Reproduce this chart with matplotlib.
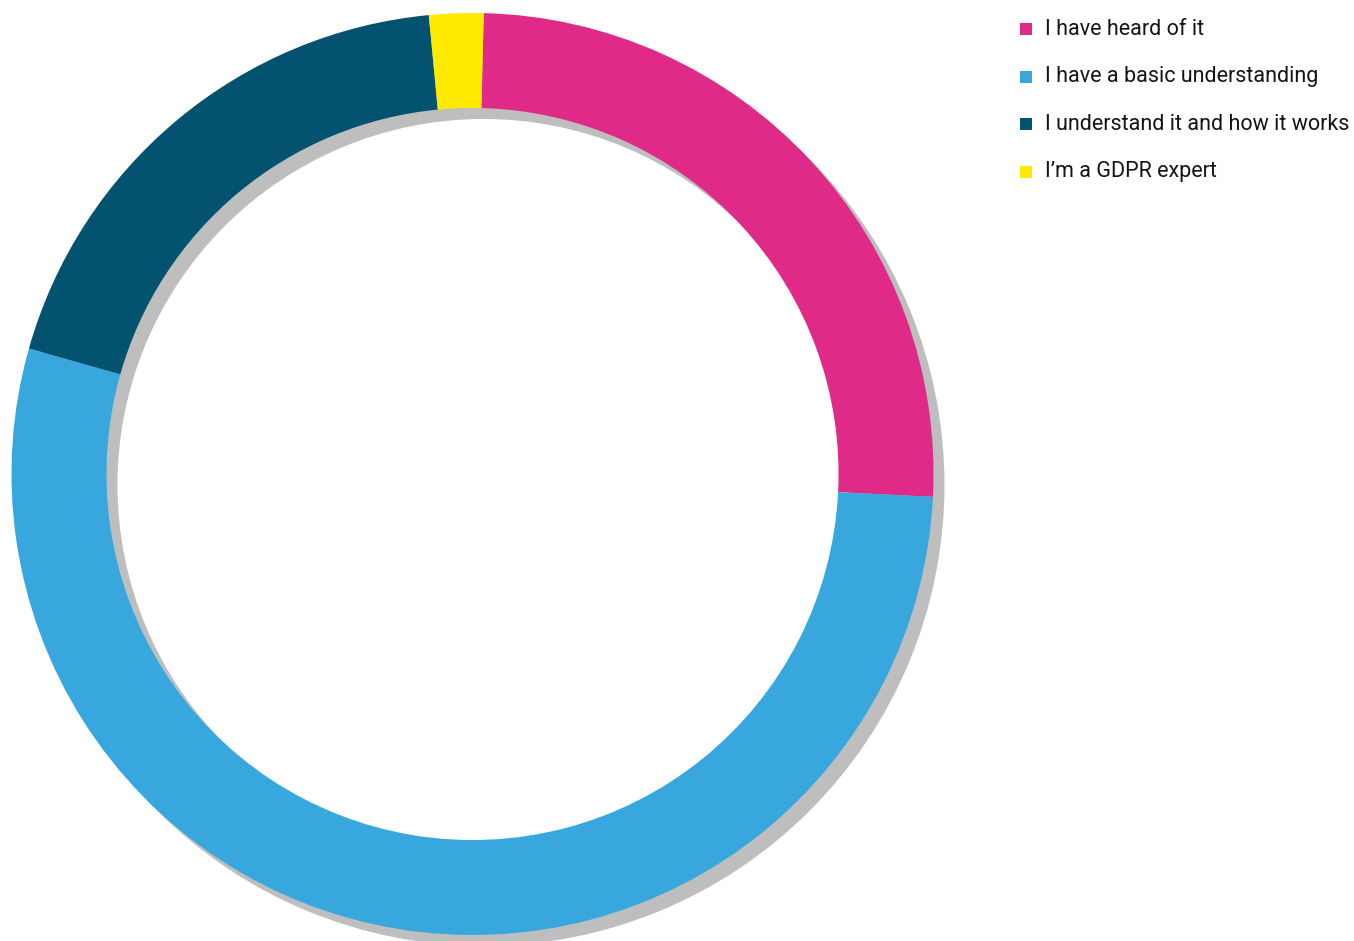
import matplotlib.pyplot as plt
from matplotlib.patches import Rectangle

# survey answers (share of respondents, %)
labels = ["I have heard of it", "I have a basic understanding",
          "I understand it and how it works", "I\u2019m a GDPR expert"]
values = [25.4, 53.6, 19.1, 1.9]
colors = ["#DF2A87", "#38A7DE", "#035270", "#FFEA00"]

plt.rcParams['font.family'] = ['Roboto', 'DejaVu Sans']

W, H = 1354, 941
fig = plt.figure(figsize=(W / 100, H / 100), dpi=100)
ax = fig.add_axes([0, 0, 1, 1])

cx, cy, r = 472.5, H - 474, 461
ring = dict(width=r * 0.206, edgecolor='none')

# drop shadow (one piece so no seams)
ax.pie([sum(values)], colors=['#BEBEBE'], radius=r, center=(cx + 11, cy - 11),
       startangle=88.6, counterclock=False, wedgeprops=ring, frame=True)
# the ring itself
wedges, _ = ax.pie(values, colors=colors, radius=r, center=(cx, cy),
                   startangle=88.6, counterclock=False, wedgeprops=ring, frame=True)
ax.set_xlim(0, W)
ax.set_ylim(0, H)
ax.set_aspect('equal')
ax.axis('off')

# legend, top right
for i, (lab, col) in enumerate(zip(labels, colors)):
    y = H - (29 + i * 47.5)
    ax.add_patch(Rectangle((1020, y - 6), 12, 12, facecolor=col, edgecolor='none'))
    ax.text(1045, y, lab, fontsize=15.5, color='#141414', va='center', ha='left')

fig.savefig('out.png', dpi=100, facecolor='white')
